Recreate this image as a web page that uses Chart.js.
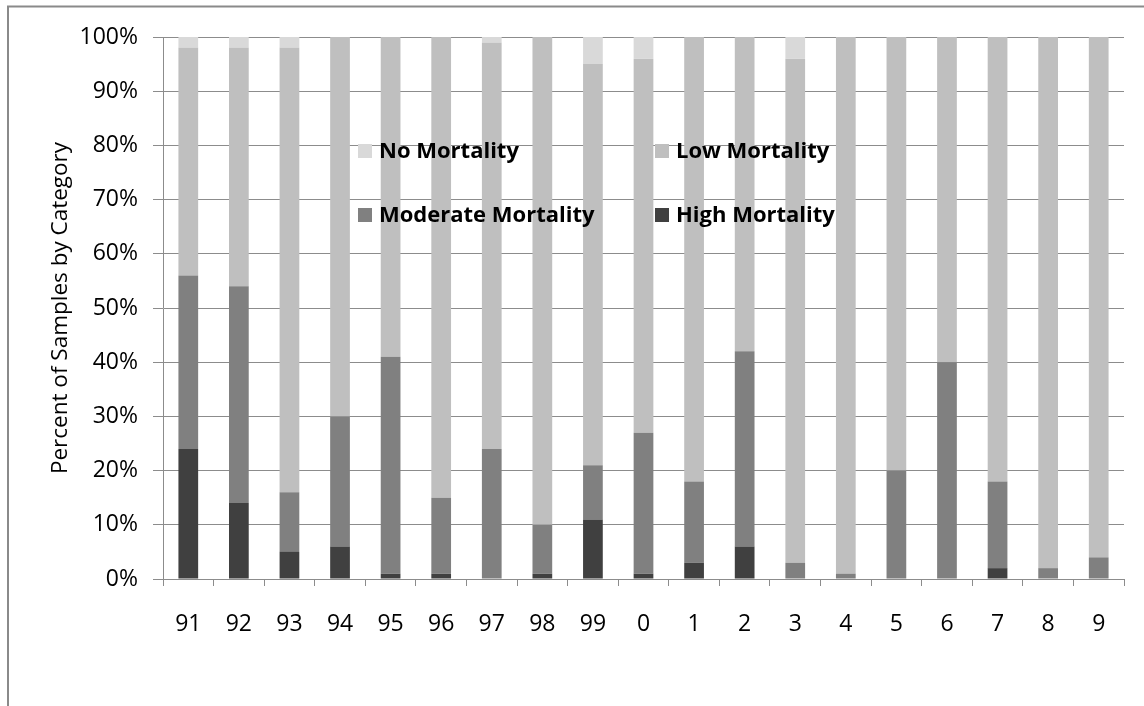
<!DOCTYPE html>
<html>
<head>
<meta charset="utf-8">
<script src="https://cdn.jsdelivr.net/npm/chart.js@4/dist/chart.umd.min.js"></script>
<style>
  html, body { margin: 0; padding: 0; background: #ffffff; }
  #wrap { position: relative; width: 1144px; height: 706px; }
</style>
</head>
<body>
<div id="wrap"><canvas id="c" width="1144" height="706"></canvas></div>
<script>
const categories = ['91','92','93','94','95','96','97','98','99','0','1','2','3','4','5','6','7','8','9'];
const highMortality     = [24,14, 5, 6, 1, 1, 0, 1,11, 1, 3, 6, 0, 0, 0, 0, 2, 0, 0];
const moderateMortality = [32,40,11,24,40,14,24, 9,10,26,15,36, 3, 1,20,40,16, 2, 4];
const lowMortality      = [42,44,82,70,59,85,75,90,74,69,82,58,93,99,80,60,82,98,96];
const noMortality       = [ 2, 2, 2, 0, 0, 0, 1, 0, 5, 4, 0, 0, 4, 0, 0, 0, 0, 0, 0];
const yTickValues = [0,10,20,30,40,50,60,70,80,90,100];
const yTitle = 'Percent of Samples by Category';

const seriesNames  = ['High Mortality','Moderate Mortality','Low Mortality','No Mortality'];
const seriesColors = ['#404040','#808080','#bfbfbf','#d9d9d9'];
const seriesData   = [highMortality, moderateMortality, lowMortality, noMortality];

const gridColor = '#8c8c8c';
const FONT = "'Open Sans', sans-serif";

const framePlugin = {
  id: 'frame',
  beforeDraw(chart) {
    const ctx = chart.ctx;
    ctx.save();
    ctx.strokeStyle = '#8a8a8a';
    ctx.lineWidth = 2;
    ctx.beginPath();
    ctx.moveTo(8, 706);
    ctx.lineTo(8, 6.5);
    ctx.lineTo(1144, 6.5);
    ctx.stroke();
    ctx.restore();
  }
};

const inlineLegend = {
  id: 'inlineLegend',
  afterDatasetsDraw(chart) {
    const ctx = chart.ctx;
    const ca = chart.chartArea;
    const order = [3, 2, 1, 0];
    const colX = [ca.left + 195, ca.left + 492];
    const rowY = [ca.top + 114, ca.top + 178];
    ctx.save();
    ctx.font = "bold 22px 'Open Sans', sans-serif";
    ctx.textBaseline = 'middle';
    ctx.textAlign = 'left';
    order.forEach((di, i) => {
      const x = colX[i % 2];
      const y = rowY[Math.floor(i / 2)];
      ctx.fillStyle = seriesColors[di];
      ctx.fillRect(x, y - 7, 14, 14);
      ctx.fillStyle = '#000000';
      ctx.fillText(seriesNames[di], x + 21, y + 1);
    });
    ctx.restore();
  }
};

new Chart(document.getElementById('c'), {
  type: 'bar',
  data: {
    labels: categories,
    datasets: seriesData.map((d, i) => ({
      label: seriesNames[i],
      data: d,
      backgroundColor: seriesColors[i],
      borderWidth: 0,
      barPercentage: 0.39,
      categoryPercentage: 1.0
    }))
  },
  options: {
    responsive: false,
    animation: false,
    devicePixelRatio: 1,
    layout: { padding: { left: 36, right: 20, top: 37, bottom: 0 } },
    plugins: {
      legend: { display: false },
      tooltip: { enabled: false },
      title: { display: false }
    },
    scales: {
      x: {
        stacked: true,
        offset: true,
        afterFit(scale) { scale.height = 127; },
        grid: {
          display: true,
          drawOnChartArea: false,
          drawTicks: true,
          tickLength: 7,
          tickColor: gridColor,
          offset: true
        },
        border: { display: true, color: gridColor, width: 1 },
        ticks: {
          color: '#000000',
          font: { family: FONT, size: 23 },
          padding: 25,
          maxRotation: 0,
          autoSkip: false
        }
      },
      y: {
        stacked: true,
        min: 0,
        max: 100,
        afterFit(scale) { scale.width = 163 - 36; },
        afterBuildTicks(scale) { scale.ticks = yTickValues.map(v => ({ value: v })); },
        grid: {
          color: gridColor,
          tickColor: gridColor,
          tickLength: 10,
          drawTicks: true
        },
        border: { display: true, color: gridColor, width: 1 },
        ticks: {
          color: '#000000',
          font: { family: FONT, size: 23 },
          padding: 15,
          callback: v => v + '%'
        },
        title: {
          display: true,
          text: yTitle,
          color: '#000000',
          font: { family: FONT, size: 22.5 },
          padding: { top: 11, bottom: 0 }
        }
      }
    }
  },
  plugins: [framePlugin, inlineLegend]
});
</script>
</body>
</html>
